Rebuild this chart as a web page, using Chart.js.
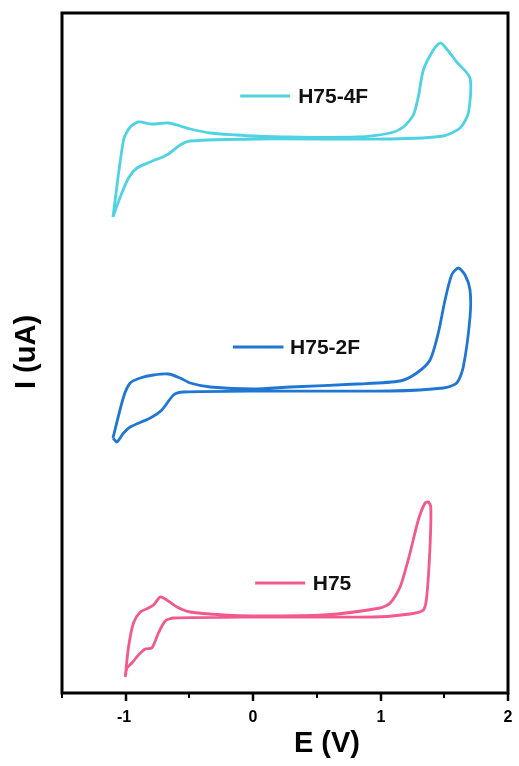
<!DOCTYPE html>
<html lang="en">
<head>
    <meta charset="UTF-8">
    <title>Cyclic Voltammetry</title>
    <style>
        body {
            margin: 0;
            background-color: #ffffff;
        }
        #chartBox {
            width: 519px;
            height: 766px;
        }
    </style>
    <script src="https://cdn.jsdelivr.net/npm/chart.js"></script>
</head>
<body>
    <div id="chartBox">
        <canvas id="cvChart" width="519" height="766"></canvas>
    </div>

    <script>
        // potential (V) and current (offset, arbitrary units) for each scan loop
        const e4F = [-1.100, -1.017, -0.965, -0.900, -0.795, -0.664, -0.573, -0.494, -0.337, -0.128, 0.002, 0.290, 0.813, 1.075, 1.179, 1.257, 1.296, 1.336, 1.414, 1.467, 1.506, 1.598, 1.702, 1.689, 1.624, 1.493, 1.075, 0.029, -0.494, -0.573, -0.677, -0.808, -0.912, -0.978, -1.043, -1.100];
        const i4F = [47.6, 55.3, 56.6, 57.1, 56.9, 57.0, 56.7, 56.4, 56.0, 55.8, 55.7, 55.6, 55.6, 56.0, 56.6, 57.8, 59.6, 62.3, 64.3, 65.0, 64.6, 63.1, 61.5, 58.0, 56.5, 55.7, 55.4, 55.4, 55.2, 54.8, 53.8, 53.1, 52.5, 51.5, 49.6, 47.6];

        const e2F = [-1.100, -1.017, -0.965, -0.886, -0.782, -0.664, -0.573, -0.494, -0.337, 0.002, 0.290, 0.813, 1.153, 1.284, 1.388, 1.453, 1.506, 1.558, 1.610, 1.663, 1.702, 1.702, 1.649, 1.598, 1.493, 1.075, 0.029, -0.547, -0.625, -0.716, -0.808, -0.965, -1.017, -1.069, -1.100];
        const i2F = [25.5, 29.6, 31.0, 31.5, 31.8, 31.9, 31.5, 31.0, 30.6, 30.4, 30.6, 30.9, 31.2, 32.0, 33.3, 36.0, 39.3, 41.8, 42.5, 41.8, 40.3, 37.6, 32.6, 31.0, 30.5, 30.2, 30.2, 30.1, 29.8, 28.3, 27.5, 26.6, 26.0, 25.1, 25.5];

        const eH75 = [-1.004, -0.978, -0.939, -0.886, -0.821, -0.782, -0.729, -0.690, -0.598, -0.494, -0.233, 0.002, 0.551, 0.996, 1.075, 1.153, 1.231, 1.296, 1.349, 1.375, 1.394, 1.388, 1.362, 1.336, 1.231, 0.944, 0.002, -0.625, -0.690, -0.743, -0.795, -0.847, -0.900, -0.951, -0.990, -1.004];
        const iH75 = [1.6, 4.6, 7.0, 8.1, 8.5, 8.8, 9.6, 9.4, 8.6, 8.1, 7.8, 7.7, 7.8, 8.5, 9.0, 10.6, 14.0, 17.3, 19.0, 19.1, 18.6, 14.6, 9.6, 8.3, 7.9, 7.6, 7.6, 7.5, 7.2, 6.0, 4.5, 4.4, 3.8, 3.0, 2.5, 1.6];

        const seriesNames = ['H75-4F', 'H75-2F', 'H75'];
        const seriesColors = ['#4fd3e1', '#1f77d3', '#f25a8c'];

        // in-plot labels: sample line start/end and text start (V), height (current units)
        const labelLineStart = [-0.102, -0.159, 0.016];
        const labelLineEnd = [0.290, 0.238, 0.408];
        const labelTextStart = [0.353, 0.290, 0.468];
        const labelLevel = [59.7, 34.6, 11.0];

        const xTicks = [-1.5, -1, -0.5, 0, 0.5, 1, 1.5, 2];

        const boldFont = '"Liberation Sans", Arial, sans-serif';

        function toPoints(xs, ys) {
            return xs.map((x, i) => ({ x: x, y: ys[i] }));
        }

        const loops = [toPoints(e4F, i4F), toPoints(e2F, i2F), toPoints(eH75, iH75)];

        // frame, tick marks and labels, in-plot labels, axis titles
        const decorations = {
            id: 'decorations',
            afterDraw(chart) {
                const ctx = chart.ctx;
                const area = chart.chartArea;
                const xs = chart.scales.x;
                const ys = chart.scales.y;

                ctx.save();
                ctx.strokeStyle = '#000000';
                ctx.lineWidth = 3;
                ctx.strokeRect(area.left, area.top, area.right - area.left, area.bottom - area.top);

                ctx.fillStyle = '#000000';
                ctx.font = 'bold 16px ' + boldFont;
                ctx.textAlign = 'center';
                ctx.textBaseline = 'middle';
                xTicks.forEach(v => {
                    const px = Math.round(xs.getPixelForValue(v));
                    const major = Number.isInteger(v);
                    ctx.lineWidth = major ? 2.5 : 2;
                    ctx.beginPath();
                    ctx.moveTo(px, area.bottom);
                    ctx.lineTo(px, area.bottom + (major ? 8 : 5));
                    ctx.stroke();
                    if (major) {
                        ctx.fillText(String(v), px - (v < 0 ? 2 : 0), area.bottom + 25);
                    }
                });

                ctx.font = 'bold 21px ' + boldFont;
                ctx.textAlign = 'left';
                seriesNames.forEach((name, i) => {
                    const py = ys.getPixelForValue(labelLevel[i]);
                    ctx.strokeStyle = seriesColors[i];
                    ctx.lineWidth = 3;
                    ctx.beginPath();
                    ctx.moveTo(xs.getPixelForValue(labelLineStart[i]), py);
                    ctx.lineTo(xs.getPixelForValue(labelLineEnd[i]), py);
                    ctx.stroke();
                    ctx.fillStyle = '#111111';
                    ctx.fillText(name, xs.getPixelForValue(labelTextStart[i]), py + 1);
                });

                ctx.fillStyle = '#000000';
                ctx.font = 'bold 29px ' + boldFont;
                ctx.textAlign = 'center';
                ctx.fillText('E (V)', 327, 744);

                ctx.translate(27, 352);
                ctx.rotate(-Math.PI / 2);
                ctx.fillText('I (uA)', 0, 0);
                ctx.restore();
            }
        };

        new Chart(document.getElementById('cvChart'), {
            type: 'scatter',
            data: {
                datasets: loops.map((pts, i) => ({
                    label: seriesNames[i],
                    data: pts,
                    showLine: true,
                    borderColor: seriesColors[i],
                    borderWidth: 2.8,
                    pointRadius: 0,
                    tension: 0.25,
                    fill: false
                }))
            },
            options: {
                responsive: false,
                animation: false,
                layout: {
                    padding: { top: 13, right: 11, left: 0, bottom: 0 }
                },
                plugins: {
                    legend: { display: false },
                    tooltip: { enabled: false }
                },
                scales: {
                    x: {
                        type: 'linear',
                        min: -1.5,
                        max: 2,
                        afterFit(scale) { scale.height = 73; },
                        grid: { display: false },
                        border: { display: false },
                        ticks: { display: false }
                    },
                    y: {
                        type: 'linear',
                        min: 0,
                        max: 68,
                        afterFit(scale) { scale.width = 62; },
                        grid: { display: false },
                        border: { display: false },
                        ticks: { display: false }
                    }
                }
            },
            plugins: [decorations]
        });
    </script>
</body>
</html>
